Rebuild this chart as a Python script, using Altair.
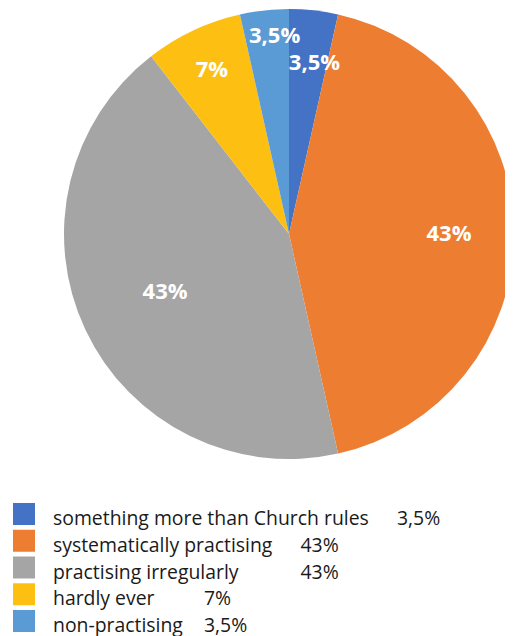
import altair as alt
import pandas as pd

categories = [
    "something more than Church rules",
    "systematically practising",
    "practising irregularly",
    "hardly ever",
    "non-practising",
]
values = [3.5, 43, 43, 7, 3.5]
colors = ["#4472C4", "#ED7D31", "#A5A5A5", "#FDC012", "#5B9BD5"]
legend_tabs = [3, 2, 2, 1, 1]

df = pd.DataFrame({
    "category": categories,
    "value": values,
    "idx": list(range(len(categories))),
    "tab": legend_tabs,
})

color = alt.Color("category:N", scale=alt.Scale(domain=categories, range=colors), legend=None)
order = alt.Order("idx:Q")
cx = alt.value(281)
cy = alt.value(226)

base = alt.Chart(df).transform_calculate(
    label="replace(format(datum.value, '.2~f'), '.', ',') + '%'"
)

pie = base.mark_arc(outerRadius=225, clip=True).encode(
    theta=alt.Theta("value:Q", stack=True), color=color, order=order, x=cx, y=cy
)

# label placement: small slices pushed outward and staggered so the two 3,5% don't collide
pie_labels = base.transform_window(
    cum="sum(value)", sort=[alt.SortField("idx")], frame=[None, 0]
).transform_calculate(
    mid="datum.cum - datum.value / 2 + (datum.value < 5 ? 0.6 : 0)",
    lr="datum.value < 5 ? (datum.idx == 0 ? 173 : 199) : (datum.value < 10 ? 181 : (datum.idx == 1 ? 160 : 137))",
).mark_text(
    font="Open Sans", fontWeight="bold", fontSize=22, color="white"
).encode(
    theta=alt.Theta("mid:Q", stack=None),
    radius=alt.Radius("lr:Q", scale=None),
    text="label:N",
    x=cx,
    y=cy,
)

ypos = alt.Y(
    "category:N",
    sort=categories,
    scale=alt.Scale(type="point", range=[506, 613], padding=0),
    axis=None,
)

squares = base.mark_square(size=484, opacity=1, filled=True).encode(
    x=alt.value(16), y=ypos, color=color
)

names = base.mark_text(
    align="left", baseline="alphabetic", dy=11,
    font="Open Sans", fontSize=19.4, color="#1a1a1a"
).encode(x=alt.value(45), y=ypos, text="category:N")

vals = base.mark_text(
    align="left", baseline="alphabetic", dy=11,
    font="Open Sans", fontSize=19.4, color="#1a1a1a"
).encode(
    x=alt.X("tab:Q", scale=alt.Scale(domain=[1, 3], range=[196, 389]), axis=None),
    y=ypos,
    text="label:N",
)

chart = alt.layer(pie, pie_labels, squares, names, vals).properties(
    width=497,
    height=632,
    autosize=alt.AutoSizeParams(type="none"),
    padding=0,
).configure_view(stroke=None)

chart.save("out.html", embed_options={"renderer": "svg", "actions": False})
